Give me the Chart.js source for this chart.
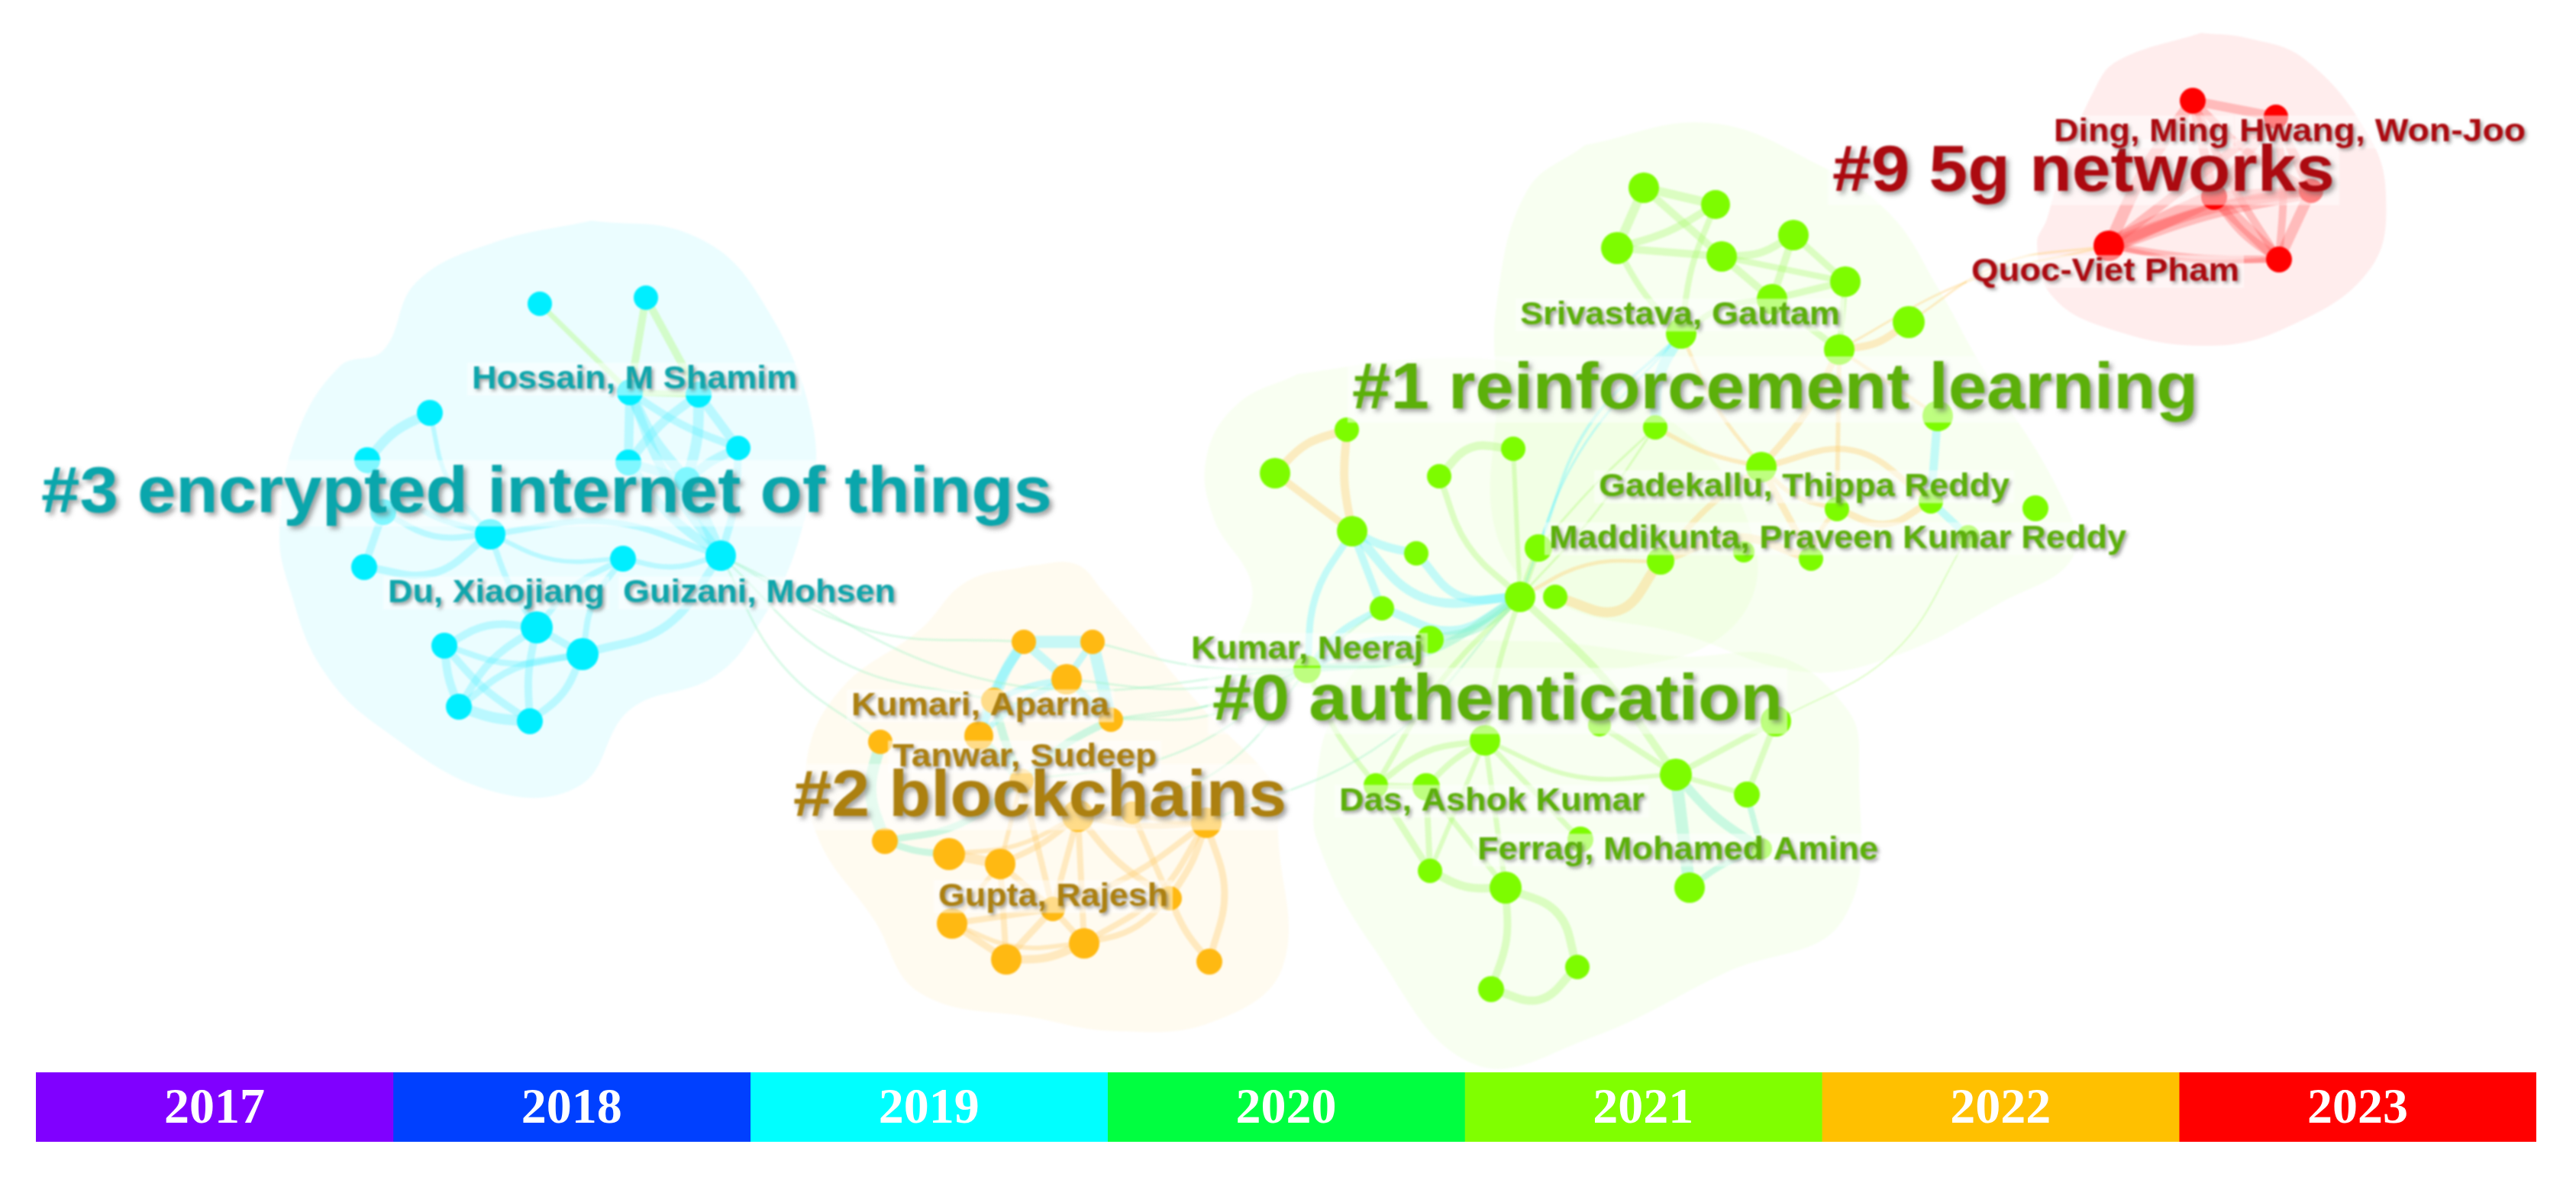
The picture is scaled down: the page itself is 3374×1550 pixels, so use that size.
<!DOCTYPE html>
<html><head><meta charset="utf-8">
<style>html,body{margin:0;padding:0;background:#fff;width:3374px;height:1550px;overflow:hidden}
#net{position:absolute;left:0;top:0;filter:blur(1.3px)}
#bar{position:absolute;left:47px;top:1405px}</style>
<script src="https://cdn.jsdelivr.net/npm/chart.js@4/dist/chart.umd.min.js"></script>
</head><body>
<canvas id="net" width="3374" height="1550"></canvas>
<canvas id="bar" width="3275" height="91"></canvas>
<script>
// ---- node tables (layout coordinates) ----
const cyanX=[707,846,563,481,502,825,915,967,823,900,642,816,944,477,703,582,763,601,694];
const cyanY=[398,390,541,603,671,514,517,587,606,629,700,732,728,743,822,846,857,926,945];
const cyanR=[16,16,17,17,17,17,17,16,17,17,20,17,20,17,21,17,21,17,17];
const orangeX=[1341,1431,1397,1302,1455,1153,1282,1159,1243,1310,1412,1483,1580,1338,1532,1379,1247,1318,1420,1584];
const orangeY=[841,841,890,918,943,972,964,1102,1119,1132,1069,1065,1078,1023,1177,1191,1210,1257,1236,1260];
const orangeR=[16,16,20,17,16,16,19,17,21,20,21,15,20,16,16,16,20,20,20,17];
const upperX=[2153,2247,2118,2255,2349,2417,2321,2202,2500,2409,2538,2168,2307,2406,2529,2666,2578,2372,2284,2175];
const upperY=[246,268,325,336,308,369,392,437,422,458,545,560,612,667,657,666,703,732,723,735];
const upperR=[20,19,21,20,20,20,20,20,21,20,20,16,20,16,16,17,15,16,14,18];
const midX=[1764,1670,1885,1982,1771,1855,2015,1991,2037,1810,1873,1712];
const midY=[563,620,624,588,696,725,718,782,782,797,838,877];
const midR=[16,20,16,16,20,16,18,20,16,16,18,18];
const lowX=[1945,2095,2326,2195,2288,1802,1868,2070,2307,1873,1972,2213,2066,1953];
const lowY=[970,950,945,1015,1041,1029,1031,1100,1112,1141,1163,1163,1267,1296];
const lowR=[20,15,20,21,17,16,18,17,14,16,21,20,16,17];
const redX=[2872,2981,2900,3027,2762,2985];
const redY=[132,153,258,250,322,340];
const redR=[17,16,17,16,20,17];

// ---- links: from, to, weight, curvature ----
const cyanEdges=[['c5','c9',14,.05],['c5','c8',12,0],['c5','c12',12,.05],['c6','c9',14,-.05],['c6','c7',12,0],['c6','c8',12,.05],['c7','c9',12,.05],['c7','c12',10,-.05],['c8','c9',12,0],['c8','c12',12,.06],['c9','c12',16,0],['c5','c7',10,.04],['c2','c3',13,.08],['c2','c10',6,.1],['c3','c4',11,0],['c4','c13',10,0],['c3','c10',8,.1],['c4','c10',8,.12],['c13','c10',10,.18],['c10','c12',8,-.1],['c10','c11',6,.1],['c11','c12',7,.1],['c10','c14',8,.05],['c11','c16',8,.1],['c11','c14',8,.08],['c12','c16',11,-.15],['c14','c15',10,.12],['c14','c16',10,0],['c14','c17',10,.08],['c14','c18',10,.05],['c15','c17',11,.05],['c15','c18',10,.05],['c15','c16',8,.1],['c16','c17',9,.1],['c16','c18',10,-.1],['c17','c18',14,.05],['o0','o1',16,0],['o0','o2',12,0],['o1','o2',9,0],['o1','o4',16,0],['o0','o3',14,.05],['o0','o6',12,.05],['o3','o6',10,0],['o2','o4',9,0],['o2','o6',8,.05],['o2','o3',8,.05],['m4','m5',11,.05],['m4','m7',12,.2],['m4','m9',10,0],['m4','m11',9,.1],['m5','m7',11,.2],['m9','m7',11,.2],['m9','m11',9,.08],['m10','m11',9,.1],['u7','u11',14,.1],['u7','m6',4,.1],['u7','m7',3,.08],['u10','u14',11,0],['u14','u16',10,0]];
const limeEdges=[['c0','c5',7,0],['c1','c5',10,0],['c1','c6',10,0],['c5','c6',8,0],['u0','u1',12,0],['u0','u2',12,0],['u0','u3',10,0],['u2','u1',10,.05],['u2','u3',10,0],['u1','u7',8,.05],['u2','u7',8,.05],['u3','u4',10,.1],['u3','u6',10,0],['u4','u6',10,0],['u4','u5',9,0],['u5','u6',9,0],['u3','u5',8,0],['u6','u9',9,0],['u6','u7',8,.1],['u5','u9',8,0],['m2','m3',11,-.2],['m2','m7',8,.1],['m3','m7',6,0],['m6','m7',9,0],['m7','l0',7,.03],['m7','l3',10,-.04],['m7','l5',7,.05],['m11','l5',7,.05],['l0','l5',8,.1],['l0','l6',8,.05],['l0','l9',6,0],['l0','l3',6,.1],['l0','l7',7,0],['l5','l6',8,0],['l5','l9',9,0],['l6','l9',8,0],['l6','l10',7,0],['l9','l10',11,.1],['l10','l12',11,-.2],['l10','l13',10,-.08],['l12','l13',11,-.25],['l0','l10',7,0],['l1','l3',8,0],['l2','l3',8,0],['l2','l4',8,0],['l3','l4',7,0],['u16','l2',2,-.12],['u11','m6',3,.02],['u11','m7',3,-.03]];
const orangeEdges=[['o8','o9',13,0],['o8','o10',6,.08],['o9','o10',8,.05],['o9','o13',6,0],['o10','o11',8,0],['o10','o12',8,.05],['o10','o13',6,0],['o10','o14',9,.06],['o11','o12',6,.05],['o11','o14',8,0],['o12','o14',9,-.05],['o12','o15',8,-.05],['o12','o19',9,-.12],['o14','o19',9,.05],['o14','o18',8,-.1],['o15','o16',8,0],['o15','o17',9,0],['o15','o18',8,0],['o16','o17',9,0],['o17','o18',11,.08],['o16','o18',6,.1],['o13','o15',8,0],['o10','o15',8,0],['o10','o18',8,0],['o9','o15',8,0],['o9','o17',8,0],['o16','o9',6,0],['o12','o18',8,-.1],['m0','m1',11,.1],['m0','m4',11,.05],['m1','m4',10,0],['m8','u19',13,.3],['m7','u19',5,-.1],['u9','u12',9,-.05],['u9','u8',10,.1],['u9','u13',6,0],['u12','u13',6,.1],['u12','u17',9,0],['u12','u19',8,.05],['u13','u17',6,.08],['u17','u19',11,.15],['u13','u14',9,.2],['u12','u14',8,-.2],['u11','u12',6,.05],['u7','u12',5,.05],['u8','r4',3,-.1],['u9','r4',3,-.06],['u10','u9',5,0]];
const mintEdges=[['o5','o7',15,.12],['o7','o13',9,.1],['o7','o8',9,.05],['o3','o13',11,.03],['o6','o13',11,0],['o4','o13',10,.05],['m10','m7',11,.1],['m11','m7',10,.1],['l3','l11',16,0],['l3','l8',12,.05],['l4','l8',8,0],['l8','l11',8,.05]];
const paleEdges=[['c12','o5',3,.1],['c12','o3',3,.12],['c12','o0',3,.1],['c12','m11',3,.12],['o1','m11',3,.05],['o2','m11',3,.06],['o4','m11',3,.1],['o11','m11',3,.1],['o13','m11',3,.1],['o12','m7',3,.1],['o3','m11',3,.1],['o4','m9',3,.1]];
const redEdges=[['r0','r1',12,0],['r0','r2',12,0],['r0','r3',10,.05],['r0','r4',16,.04],['r0','r5',10,.03],['r1','r2',12,0],['r1','r3',12,0],['r1','r4',12,0],['r1','r5',10,-.04],['r2','r3',14,0],['r2','r4',22,0],['r2','r5',16,0],['r3','r4',20,.03],['r3','r5',14,0],['r4','r5',10,.03],['r4','r3',12,-.04],['r2','r5',12,.06],['r5','r4',6,-.05]];

// ---- cluster outlines ----
const hullCyan=[[775,289],[646,318],[545,370],[502,459],[445,480],[387,574],[366,695],[380,773],[423,878],[502,956],[646,1037],[760,1029],[825,930],[933,888],[990,825],[1047,705],[1066,564],[990,381],[904,307]];
const hullOrange=[[1348,741],[1409,739],[1445,775],[1577,930],[1674,1036],[1674,1090],[1680,1267],[1588,1339],[1460,1351],[1358,1334],[1205,1301],[1144,1204],[1072,1099],[1057,994],[1103,901],[1205,825],[1266,762]];
const hullUpper=[[2076,190],[2238,161],[2380,215],[2475,280],[2540,380],[2590,470],[2700,650],[2715,730],[2620,790],[2480,860],[2360,880],[2200,830],[2040,790],[1960,700],[1960,520],[1960,400],[2000,250]];
const hullMid=[[1700,490],[1860,470],[2000,480],[2200,560],[2300,720],[2260,830],[2100,880],[1900,900],[1700,900],[1620,870],[1640,770],[1590,680],[1580,600],[1620,530]];
const hullLow=[[1722,1033],[1740,950],[1800,860],[2000,840],[2200,860],[2330,860],[2420,930],[2435,998],[2414,1205],[2261,1274],[2083,1360],[1930,1394],[1797,1239],[1725,1101]];
const hullRed=[[2883,43],[2773,80],[2742,120],[2700,220],[2681,287],[2668,320],[2687,387],[2760,430],[2889,453],[2993,430],[3104,353],[3125,253],[3098,170],[3018,77],[2944,50]];

// ---- labels ----
const bigLabels=['#3 encrypted internet of things','#1 reinforcement learning','#0 authentication','#2 blockchains','#9 5g networks'];
const bigX=[54,1771,1588,1039,2400], bigW=[1324,1108,747,646,658], bigBase=[671,535,943,1069,250];
const bigColors=['#0aa6ac','#5cb00a','#5cb00a','#ac8010','#ac0a10'];
const smallLabels=['Hossain, M Shamim','Du, Xiaojiang','Guizani, Mohsen','Kumar, Neeraj','Kumari, Aparna','Tanwar, Sudeep','Gupta, Rajesh','Das, Ashok Kumar','Ferrag, Mohamed Amine','Srivastava, Gautam','Gadekallu, Thippa Reddy','Maddikunta, Praveen Kumar Reddy','Ding, Ming','Hwang, Won-Joo','Quoc-Viet Pham'];
const smallX=[618,508,816,1560,1115,1169,1229,1754,1935,1991,2094,2029,2690,2933,2582];
const smallW=[426,284,357,304,338,346,301,400,525,419,538,756,230,375,351];
const smallBase=[509,789,789,863,937,1004,1187,1062,1126,425,650,718,185,185,368];
const smallColors=['#0fa6ac','#0fa6ac','#0fa6ac','#5cb00a','#ac8010','#ac8010','#ac8010','#5cb00a','#5cb00a','#5cb00a','#5cb00a','#5cb00a','#ac0a10','#ac0a10','#ac0a10'];

// ---- colour bar ----
const years=['2017','2018','2019','2020','2021','2022','2023'];
const yearColors=['#8000ff','#0040ff','#00ffff','#00ff40','#80ff00','#ffc000','#ff0000'];

// ---- build datasets ----
const groups={c:[cyanX,cyanY],o:[orangeX,orangeY],u:[upperX,upperY],m:[midX,midY],l:[lowX,lowY],r:[redX,redY]};
function pos(id){const g=groups[id[0]],i=+id.slice(1);return {x:g[0][i],y:g[1][i]};}
function edgeSet(list,color){return list.map(e=>{
  const a=pos(e[0]),b=pos(e[1]),dx=b.x-a.x,dy=b.y-a.y;
  const mid={x:(a.x+b.x)/2-dy*e[3],y:(a.y+b.y)/2+dx*e[3]};
  return {type:'line',data:[a,mid,b],borderColor:color,borderWidth:e[2],tension:.4,pointRadius:0,fill:false,order:20,borderCapStyle:'round'};
});}
function hullSet(pts,color){const d=pts.concat([pts[0]]).map(p=>({x:p[0],y:p[1]}));
  return {type:'line',data:d,borderColor:'rgba(0,0,0,0)',borderWidth:0,backgroundColor:color,fill:'shape',tension:.4,pointRadius:0,order:30};}
function nodeSet(X,Y,R,color){return {type:'scatter',data:X.map((x,i)=>({x,y:Y[i]})),pointRadius:R,backgroundColor:color,borderWidth:0,pointBorderWidth:0,showLine:false,order:10};}

const datasets=[
 hullSet(hullCyan,'rgba(0,235,255,.08)'),hullSet(hullOrange,'rgba(255,192,0,.06)'),
 hullSet(hullUpper,'rgba(128,255,0,.055)'),hullSet(hullMid,'rgba(128,255,0,.05)'),hullSet(hullLow,'rgba(128,255,0,.055)'),
 hullSet(hullRed,'rgba(255,0,0,.07)'),
 ...edgeSet(paleEdges,'rgba(150,240,190,.35)'),
 ...edgeSet(limeEdges,'rgba(160,250,90,.32)'),
 ...edgeSet(orangeEdges,'rgba(255,205,110,.38)'),
 ...edgeSet(mintEdges,'rgba(130,240,200,.4)'),
 ...edgeSet(cyanEdges,'rgba(90,240,255,.34)'),
 ...edgeSet(redEdges,'rgba(255,70,70,.3)'),
 nodeSet(cyanX,cyanY,cyanR,'#00eeff'),nodeSet(orangeX,orangeY,orangeR,'#ffb912'),
 nodeSet(upperX,upperY,upperR,'#7dfc00'),nodeSet(midX,midY,midR,'#7dfc00'),nodeSet(lowX,lowY,lowR,'#7dfc00'),
 nodeSet(redX,redY,redR,'#ff0000')
];

const labelPlugin={id:'labels',afterDatasetsDraw(chart){
  const c=chart.ctx,sx=chart.scales.x,sy=chart.scales.y;
  function box(x,w,base,size){
    c.fillStyle='rgba(255,255,255,.5)';
    c.fillRect(sx.getPixelForValue(x)-6,sy.getPixelForValue(base)-size*.8,w+12,size*1.02);
  }
  function put(t,x,w,base,size,color,sh){
    c.save();
    c.font='bold '+size+'px "Liberation Sans"';c.textBaseline='alphabetic';c.textAlign='left';
    const k=w/c.measureText(t).width;
    c.translate(sx.getPixelForValue(x),sy.getPixelForValue(base));c.scale(k,1);
    c.shadowColor='rgba(80,80,80,.55)';c.shadowBlur=sh;c.shadowOffsetX=sh*.7;c.shadowOffsetY=sh*.7;
    c.fillStyle=color;c.fillText(t,0,0);
    c.restore();
  }
  smallLabels.forEach((t,i)=>box(smallX[i],smallW[i],smallBase[i],42));
  bigLabels.forEach((t,i)=>box(bigX[i],bigW[i],bigBase[i],85));
  bigLabels.forEach((t,i)=>put(t,bigX[i],bigW[i],bigBase[i],85,bigColors[i],6));
  smallLabels.forEach((t,i)=>put(t,smallX[i],smallW[i],smallBase[i],42,smallColors[i],4));
}};

new Chart(document.getElementById('net'),{type:'scatter',data:{datasets},plugins:[labelPlugin],options:{
  responsive:false,devicePixelRatio:1,animation:false,events:[],layout:{padding:0,autoPadding:false},
  plugins:{legend:{display:false},tooltip:{enabled:false}},
  scales:{x:{type:'linear',min:0,max:3374,display:false},y:{type:'linear',min:0,max:1550,reverse:true,display:false}}
}});

const yearPlugin={id:'yearText',afterDatasetsDraw(chart){
  const c=chart.ctx;c.save();c.font='bold 66px "Liberation Serif"';c.fillStyle='#fff';c.textAlign='center';c.textBaseline='middle';
  chart.data.datasets.forEach((d,i)=>{const el=chart.getDatasetMeta(i).data[0];
    c.fillText(d.label,(el.base+el.x)/2,chart.height/2+3);});
  c.restore();
}};
new Chart(document.getElementById('bar'),{type:'bar',plugins:[yearPlugin],data:{labels:['years'],
  datasets:years.map((y,i)=>({label:y,data:[1],backgroundColor:yearColors[i],barPercentage:1,categoryPercentage:1,borderWidth:0}))},
 options:{indexAxis:'y',responsive:false,devicePixelRatio:1,animation:false,events:[],layout:{padding:0,autoPadding:false},
  plugins:{legend:{display:false},tooltip:{enabled:false}},
  scales:{x:{stacked:true,min:0,max:7,display:false},y:{stacked:true,display:false}}}});
</script>
</body></html>
